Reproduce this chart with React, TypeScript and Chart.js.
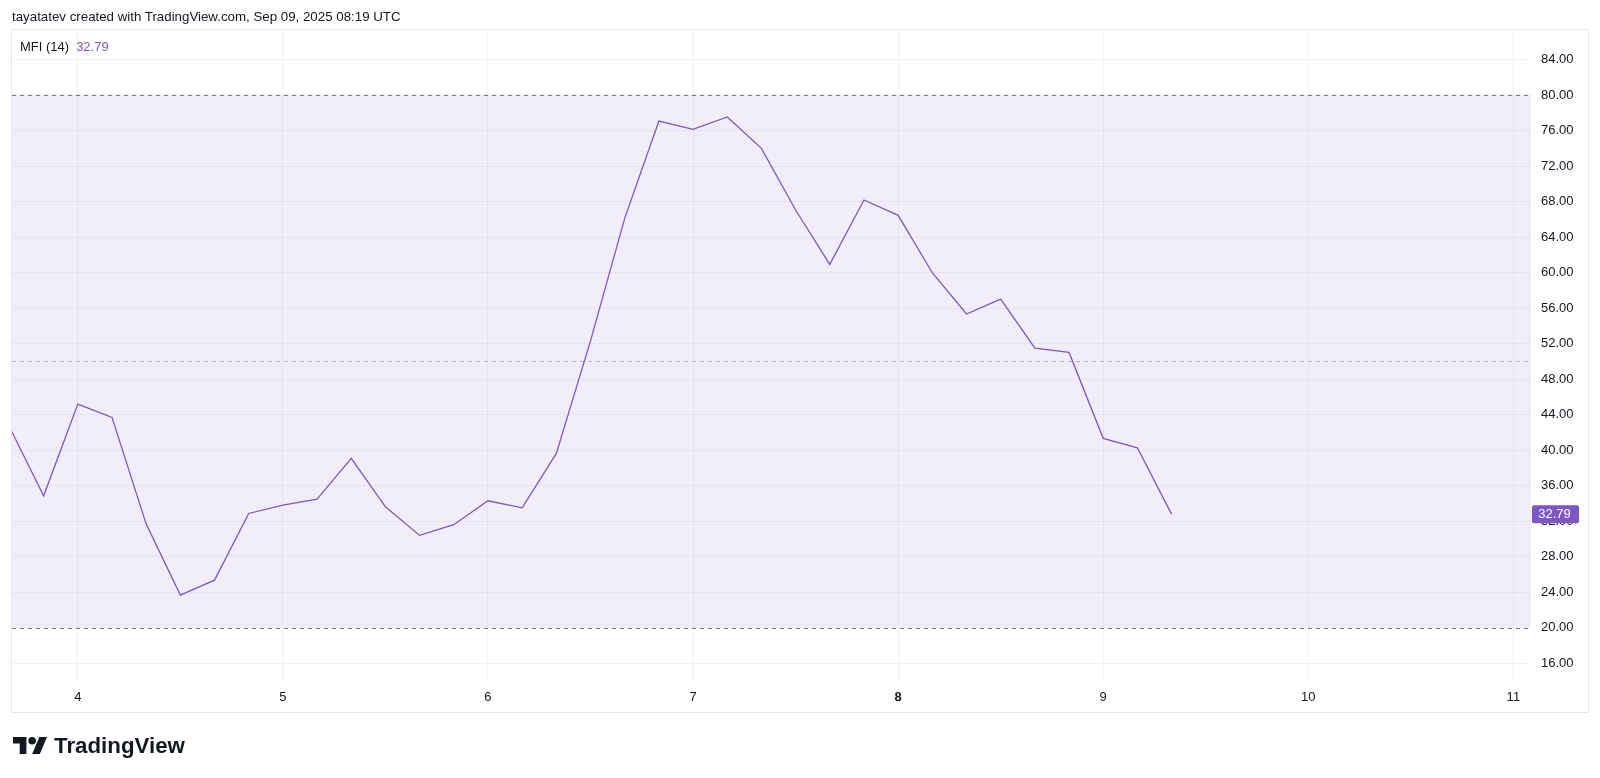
import React, { useEffect, useRef } from 'react';
import { Chart, registerables } from 'chart.js';

Chart.register(...registerables);

// ---- data ----
const SERIES_NAME = 'MFI (14)';
const START_DAY = 3; // Sep 3
const START_HOUR = 16; // first 4h bar at 16:00
const STEP_HOURS = 4;
const mfiValues = [
  42.6, 34.86, 45.19, 43.69, 31.67, 23.67, 25.36, 32.87, 33.81, 34.49, 39.07, 33.62,
  30.4, 31.6, 34.3, 33.51, 39.63, 52.3, 66.11, 77.07, 76.13, 77.52, 73.99, 67.05,
  60.92, 68.17, 66.45, 59.98, 55.33, 57.02, 51.5, 51.01, 41.33, 40.27, 32.79,
];
const xTickDays = [4, 5, 6, 7, 8, 9, 10, 11];
const boldTickDays = [8];
const yTickValues = [16, 20, 24, 28, 32, 36, 40, 44, 48, 52, 56, 60, 64, 68, 72, 76, 80, 84];
const bandLevels = [80, 50, 20];
const X_MIN = 3.679;
const X_MAX = 11.086;
const Y_MIN = 14;
const Y_MAX = 87.32;
const HEADER_TEXT = 'tayatatev created with TradingView.com, Sep 09, 2025 08:19 UTC';

const LINE_COLOR = '#7E57C2';
const FONT = '"Liberation Sans", Arial, sans-serif';

const bandPlugin = {
  id: 'mfiBand',
  beforeDatasetsDraw(chart: any) {
    const { ctx, chartArea } = chart;
    const y = chart.scales.y;
    const top = y.getPixelForValue(bandLevels[0]);
    const bottom = y.getPixelForValue(bandLevels[2]);
    ctx.save();
    ctx.fillStyle = 'rgba(126, 87, 194, 0.1)';
    ctx.fillRect(chartArea.left, top, chartArea.right - chartArea.left, bottom - top);
    ctx.setLineDash([4, 4]);
    ctx.lineWidth = 1;
    bandLevels.forEach((lvl, i) => {
      const py = Math.round(y.getPixelForValue(lvl)) + 0.5;
      ctx.strokeStyle = i === 1 ? 'rgba(120, 123, 134, 0.5)' : '#787B86';
      ctx.beginPath();
      ctx.moveTo(chartArea.left, py);
      ctx.lineTo(chartArea.right, py);
      ctx.stroke();
    });
    ctx.restore();
  },
  afterDraw(chart: any) {
    const { ctx, chartArea } = chart;
    const y = chart.scales.y;
    const last = mfiValues[mfiValues.length - 1];
    const py = y.getPixelForValue(last);
    const x0 = chartArea.right + 1;
    const w = 47;
    const h = 18;
    ctx.save();
    ctx.fillStyle = LINE_COLOR;
    ctx.beginPath();
    (ctx as any).roundRect(x0, py - h / 2, w, h, 2);
    ctx.fill();
    ctx.fillStyle = '#FFFFFF';
    ctx.font = `13px ${FONT}`;
    ctx.textAlign = 'center';
    ctx.textBaseline = 'middle';
    ctx.fillText(last.toFixed(2), x0 + w / 2 - 1, py + 0.5);
    ctx.restore();
  },
};

function MfiChart() {
  const ref = useRef<HTMLCanvasElement | null>(null);
  useEffect(() => {
    if (!ref.current) return;
    const points = mfiValues.map((v, i) => ({
      x: START_DAY + (START_HOUR + i * STEP_HOURS) / 24,
      y: v,
    }));
    const chart = new Chart(ref.current, {
      type: 'line',
      data: {
        datasets: [
          {
            label: SERIES_NAME,
            data: points,
            borderColor: LINE_COLOR,
            borderWidth: 1.3,
            pointRadius: 0,
            tension: 0,
            fill: false,
          },
        ],
      },
      options: {
        responsive: false,
        animation: false,
        devicePixelRatio: 1,
        layout: { padding: { left: 12, top: 30, right: 12, bottom: 66 } },
        plugins: {
          legend: { display: false },
          tooltip: { enabled: false },
        },
        scales: {
          x: {
            type: 'linear',
            min: X_MIN,
            max: X_MAX,
            afterBuildTicks: (s: any) => {
              s.ticks = xTickDays.map((v) => ({ value: v }));
            },
            afterFit: (s: any) => {
              s.height = 31;
            },
            grid: { color: 'rgba(42, 46, 57, 0.06)', drawTicks: false },
            border: { display: false },
            ticks: {
              padding: 9,
              color: '#131722',
              maxRotation: 0,
              autoSkip: false,
              font: (c: any) => ({
                family: FONT,
                size: 13,
                weight: c.tick && boldTickDays.includes(c.tick.value) ? 'bold' : 'normal',
              }),
              callback: (v: any) => String(v),
            },
          },
          y: {
            position: 'right',
            min: Y_MIN,
            max: Y_MAX,
            afterBuildTicks: (s: any) => {
              s.ticks = yTickValues.map((v) => ({ value: v }));
            },
            afterFit: (s: any) => {
              s.width = 57;
            },
            grid: { color: 'rgba(42, 46, 57, 0.06)', drawTicks: false },
            border: { display: false },
            ticks: {
              padding: 10,
              color: '#131722',
              crossAlign: 'near',
              autoSkip: false,
              font: { family: FONT, size: 13 },
              callback: (v: any) => Number(v).toFixed(2),
            },
          },
        },
      },
      plugins: [bandPlugin],
    } as any);
    return () => chart.destroy();
  }, []);
  return (
    <canvas
      ref={ref}
      width={1600}
      height={778}
      style={{ position: 'absolute', left: 0, top: 0, width: 1600, height: 778 }}
    />
  );
}

export default function App() {
  return (
    <div
      style={{
        position: 'fixed',
        left: 0,
        top: 0,
        width: 1600,
        height: 778,
        background: '#FFFFFF',
        overflow: 'hidden',
        fontFamily: FONT,
      }}
    >
      <div
        style={{
          position: 'absolute',
          left: 11,
          top: 29,
          width: 1578,
          height: 684,
          border: '1px solid #E6E8EE',
          boxSizing: 'border-box',
        }}
      />
      <MfiChart />
      <div
        style={{
          position: 'absolute',
          left: 12,
          top: 9,
          fontSize: 13.3,
          lineHeight: '16px',
          color: '#131722',
          whiteSpace: 'nowrap',
        }}
      >
        {HEADER_TEXT}
      </div>
      <div
        style={{
          position: 'absolute',
          left: 20,
          top: 39,
          fontSize: 13,
          lineHeight: '16px',
          color: '#131722',
          whiteSpace: 'nowrap',
        }}
      >
        {SERIES_NAME}
        <span style={{ color: LINE_COLOR, marginLeft: 7 }}>{mfiValues[mfiValues.length - 1].toFixed(2)}</span>
      </div>
      <svg
        style={{ position: 'absolute', left: 13, top: 737 }}
        width={34}
        height={17}
        viewBox="0 4 35.5 18"
        preserveAspectRatio="none"
      >
        <path d="M14 22H7V11H0V4h14v18zM28 22h-8l7.5-18h8L28 22z" fill="#131722" />
        <circle cx="20" cy="8" r="4" fill="#131722" />
      </svg>
      <div
        style={{
          position: 'absolute',
          left: 54,
          top: 732,
          fontSize: 22.3,
          lineHeight: '28px',
          fontWeight: 'bold',
          color: '#131722',
          whiteSpace: 'nowrap',
        }}
      >
        TradingView
      </div>
    </div>
  );
}
